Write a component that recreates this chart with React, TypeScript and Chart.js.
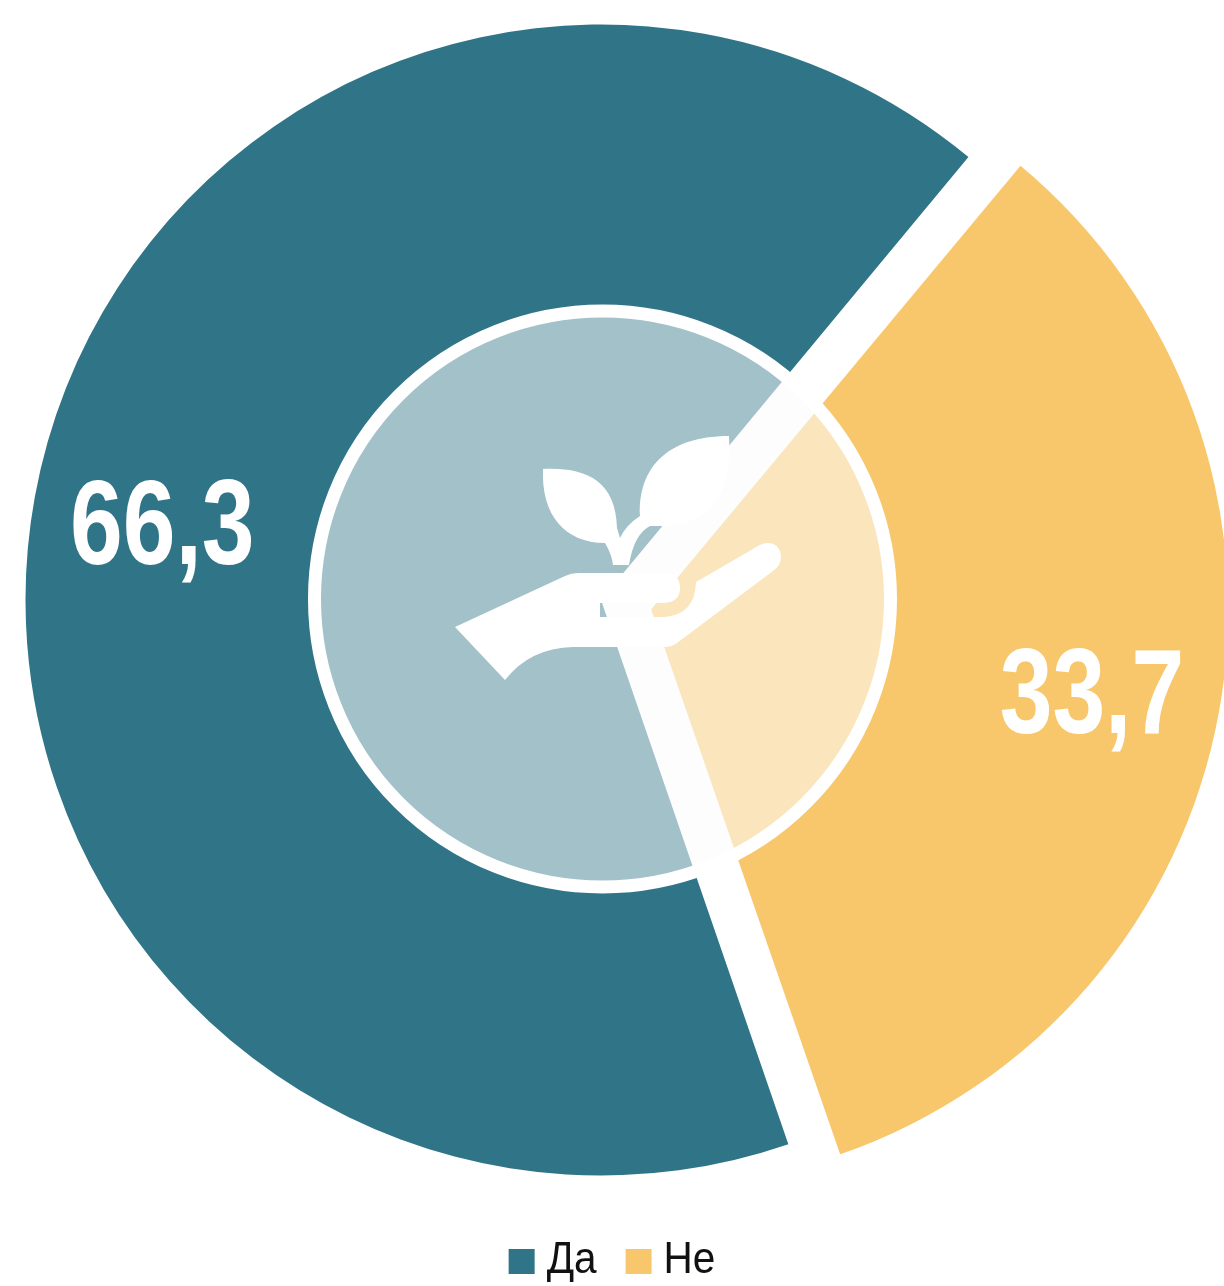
import React, { useEffect, useRef } from "react";
import { Chart, registerables } from "chart.js";

Chart.register(...registerables);

const categories = ["Да", "Не"];
const values = [66.3, 33.7];
const sliceColors = ["#307587", "#F8C76B"];
const sliceOffsets = [0, 204];

const FONT = '"Liberation Sans", Arial, sans-serif';

const valueLabels = {
  id: "valueLabels",
  afterDatasetsDraw(chart: any) {
    const { ctx } = chart;
    const meta = chart.getDatasetMeta(0);
    meta.data.forEach((arc: any, i: number) => {
      const mid = (arc.startAngle + arc.endAngle) / 2;
      const shift = sliceOffsets[i] / 4 + 447;
      const x = arc.x + Math.cos(mid) * shift;
      const y = arc.y + Math.sin(mid) * shift;
      ctx.save();
      ctx.translate(x + 1, y + 11);
      ctx.scale(0.79, 1);
      ctx.fillStyle = "#FFFFFF";
      ctx.font = `bold 120px ${FONT}`;
      ctx.textAlign = "center";
      ctx.textBaseline = "middle";
      ctx.fillText(String(values[i]).replace(".", ","), 0, 0);
      ctx.restore();
    });
  },
};

const narrowLegend = {
  id: "narrowLegend",
  afterDraw(chart: any) {
    const { ctx } = chart;
    const boxW = 26;
    const boxH = 25;
    const gap = 12;
    const between = 29;
    const textScale = 0.9;
    ctx.save();
    ctx.font = `45px ${FONT}`;
    ctx.textBaseline = "alphabetic";
    const widths = categories.map((c) => ctx.measureText(c).width * textScale);
    const total = widths.reduce((s, w) => s + w + boxW + gap, 0) + between * (categories.length - 1);
    let x = (chart.width - total) / 2;
    categories.forEach((c, i) => {
      ctx.fillStyle = sliceColors[i];
      ctx.fillRect(x, 1249, boxW, boxH);
      ctx.save();
      ctx.translate(x + boxW + gap, 1273);
      ctx.scale(textScale, 1);
      ctx.fillStyle = "#111111";
      ctx.fillText(c, 0, 0);
      ctx.restore();
      x += boxW + gap + widths[i] + between;
    });
    ctx.restore();
  },
};

const centerBadge = {
  id: "centerBadge",
  beforeDatasetDraw(chart: any) {
    // keep the pulled-out slice at the same outer radius as the other one
    const arc = chart.getDatasetMeta(0).data[1];
    if (arc) {
      const c = arc.endAngle - arc.startAngle;
      const fix = 1 - Math.sin(Math.min(Math.PI, c));
      arc.outerRadius = 575 - (sliceOffsets[1] / 4) * fix + 2;
    }
  },
  afterDatasetDraw(chart: any) {
    const { ctx } = chart;
    const a = chart.getDatasetMeta(0).data[0];
    const cx = a.x + 1.5;
    const cy = a.y - 1;
    ctx.save();
    ctx.beginPath();
    ctx.arc(cx, cy, 288, 0, Math.PI * 2);
    ctx.fillStyle = "rgba(251,251,251,0.57)";
    ctx.fill();
    ctx.lineWidth = 13;
    ctx.strokeStyle = "#FFFFFF";
    ctx.stroke();
    ctx.translate(a.x - 601, a.y - 600);
    ctx.fillStyle = "#FFFFFF";
    ctx.fill(
      new Path2D(
        "M455,627 L565,576 Q571,573 578,573 L668,573 Q680,575 680,588 Q680,602 664,603 L600,603 L600,617 L664,617 Q695,615 696,582 L758,546 C770,539 781,545 781,557 C781,563 778,567 773,571 L677,643 Q672,647 665,647 L573,647 Q530,648 505,680 Z"
      )
    );
    ctx.fill(
      new Path2D(
        "M543,469 C585,467 616,480 617,528 L620,538 Q626,525 640,516 C638,470 665,436 729,436 C732,490 715,525 662,526 L650,526 Q634,534 629,565 L613,565 Q612,555 605,543 C565,543 541,515 543,469 Z"
      )
    );
    ctx.restore();
  },
};

export default function App() {
  const ref = useRef<HTMLCanvasElement>(null);
  useEffect(() => {
    const chart = new Chart(ref.current as HTMLCanvasElement, {
      type: "pie",
      data: {
        labels: categories,
        datasets: [
          {
            data: values,
            backgroundColor: sliceColors,
            borderWidth: 0,
            offset: sliceOffsets,
            clip: false,
          } as any,
        ],
      },
      options: {
        responsive: false,
        animation: false,
        rotation: 161,
        radius: 575.5,
        layout: { padding: { left: 0, right: 22, top: 0, bottom: 86 } },
        plugins: {
          tooltip: { enabled: false },
          legend: { display: false },
        },
      } as any,
      plugins: [centerBadge, valueLabels, narrowLegend],
    });
    return () => chart.destroy();
  }, []);
  return (
    <div style={{ position: "absolute", left: 0, top: 0, width: 1224, height: 1286, overflow: "hidden", background: "#FFFFFF" }}>
      <canvas ref={ref} width={1224} height={1286} style={{ display: "block" }} />
    </div>
  );
}
